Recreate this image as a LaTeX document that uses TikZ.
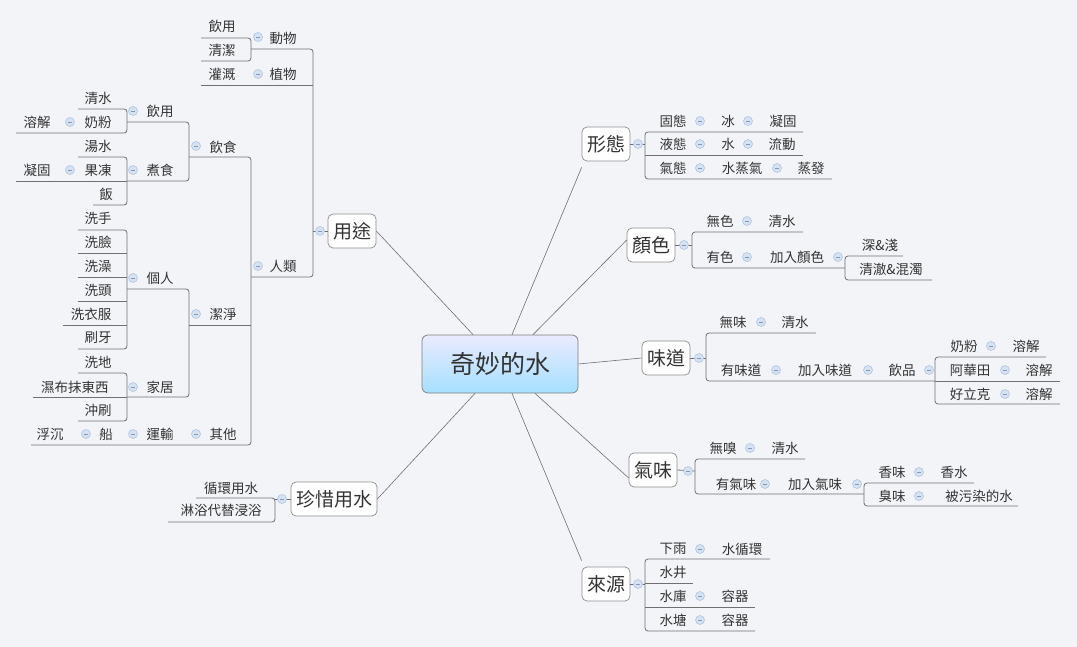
\documentclass[tikz,border=0pt]{standalone}
\usepackage{fontspec}
\setmainfont{Noto Sans CJK TC}
\begin{document}
\definecolor{bg}{HTML}{F3F4F8}
\definecolor{ln}{HTML}{707070}
\definecolor{tx}{HTML}{333333}
\definecolor{cf}{HTML}{D5E2F3}
\definecolor{cb}{HTML}{A9BFDD}
\tikzset{
 lk/.style={draw=ln,line width=0.8pt},
 br/.style={draw=ln,line width=0.8pt,rounded corners=3pt},
 leaf/.style={text=tx,font=\fontsize{13.5}{13.5}\selectfont,inner sep=0pt},
 topic/.style={draw=ln!80,fill=white,rounded corners=5pt,text=tx,font=\fontsize{19}{19}\selectfont,minimum height=34pt,inner xsep=5pt,line width=0.7pt},
 coll/.style={circle,draw=cb,fill=cf,minimum size=9pt,inner sep=0pt,line width=0.5pt}
}
\newcommand{\cl}[1]{\node[coll] at (#1) {}; \draw[cb!80!black,line width=0.6pt] ([xshift=-2pt]#1) -- ([xshift=2pt]#1);}
\newcommand{\T}[3]{\node[leaf] (#1) at (#2) {#3};}
\begin{tikzpicture}[x=1pt,y=-1pt]
\fill[bg] (0,0) rectangle (1077,647);
\useasboundingbox (0,0) rectangle (1077,647);
% center
\node[draw=ln!90,rounded corners=6pt,top color=blue!8!white,bottom color=blue!35!cyan!35!white,minimum width=156pt,minimum height=58pt,font=\fontsize{25}{25}\selectfont,text=tx,line width=0.7pt] (c) at (500,364) {奇妙的水};
\node[topic] (xt) at (606,144) {形態};
\node[topic] (ys) at (651,245) {顏色};
\node[topic] (wd) at (666,358) {味道};
\node[topic] (qw) at (653,470) {氣味};
\node[topic] (ly) at (606,584) {來源};
\node[topic] (yt) at (352,231) {用途};
\node[topic] (zx) at (334,499) {珍惜用水};
\begin{scope}[lk,line width=0.6pt]
\draw ([xshift=12pt]c.north) -- ([yshift=-6pt]xt.south west);
\draw ([xshift=33pt]c.north) -- ([yshift=5pt]ys.west);
\draw (c.east) -- (wd.west);
\draw ([xshift=35pt]c.south) -- ([yshift=-8pt]qw.west);
\draw ([xshift=12pt]c.south) -- ([yshift=6pt]ly.north west);
\draw ([xshift=-27pt]c.north) -- (yt.east);
\draw ([xshift=-25pt]c.south) -- (zx.east);
\end{scope}
% ---- 形態
\draw[lk] (xt.east) -- (645,144);
\draw[br] (803,132) -- (645,132) -- (645,179) -- (832,179);
\draw[lk] (645,155) -- (803,155);
\cl{638,144}
\T{a1}{673,121}{固態}\cl{700,121}\T{a2}{728,121}{冰}\cl{748,121}\T{a3}{783,121}{凝固}
\T{a4}{673,144}{液態}\cl{700,144}\T{a5}{728,144}{水}\cl{748,144}\T{a6}{782,144}{流動}
\T{a7}{673,168}{氣態}\cl{700,168}\T{a8}{742,168}{水蒸氣}\cl{777,168}\T{a9}{811,168}{蒸發}
% ---- 顏色
\draw[lk] (ys.east) -- (692,245);
\draw[br] (803,232) -- (692,232) -- (692,268) -- (845,268);
\cl{684,245}
\T{b1}{720,221}{無色}\cl{747,221}\T{b2}{782,221}{清水}
\T{b3}{720,257}{有色}\cl{747,257}\T{b4}{797,257}{加入顏色}\cl{838,257}
\draw[br] (903,256) -- (845,256) -- (845,280) -- (932,280);
\T{b5}{880,245}{深\&淺}\T{b6}{891,269}{清澈\&混濁}
% ---- 味道
\draw[lk] (wd.east) -- (706,358);
\draw[br] (816,333) -- (706,333) -- (706,381) -- (935,381);
\cl{699,358}
\T{c1}{733,322}{無味}\cl{761,322}\T{c2}{795,322}{清水}
\T{c3}{741,370}{有味道}\cl{776,370}\T{c4}{825,370}{加入味道}\cl{868,370}\T{c5}{902,370}{飲品}\cl{929,370}
\draw[br] (1046,357) -- (935,357) -- (935,404) -- (1060,404);
\draw[lk] (935,381) -- (1060,381);
\T{c6}{964,346}{奶粉}\cl{991,346}\T{c7}{1026,346}{溶解}
\T{c8}{970,370}{阿華田}\cl{1005,370}\T{c9}{1039,370}{溶解}
\T{c10}{970,394}{好立克}\cl{1005,394}\T{c11}{1039,394}{溶解}
% ---- 氣味
\draw[lk] (qw.east) -- (695,471);
\draw[br] (805,459) -- (695,459) -- (695,494) -- (864,494);
\cl{688,471}
\T{d1}{723,448}{無嗅}\cl{750,448}\T{d2}{785,448}{清水}
\T{d3}{736,484}{有氣味}\cl{765,484}\T{d4}{815,484}{加入氣味}\cl{857,484}
\draw[br] (974,483) -- (864,483) -- (864,506) -- (1018,506);
\T{d5}{892,472}{香味}\cl{919,472}\T{d6}{954,472}{香水}
\T{d7}{892,496}{臭味}\cl{919,496}\T{d8}{979,496}{被污染的水}
% ---- 來源
\draw[lk] (ly.east) -- (645,584);
\draw[br] (770,559) -- (645,559) -- (645,631) -- (755,631);
\draw[lk] (645,583) -- (693,583);
\draw[lk] (645,607) -- (755,607);
\cl{638,584}
\T{e1}{673,549}{下雨}\cl{700,549}\T{e2}{742,549}{水循環}
\T{e3}{673,572}{水井}
\T{e4}{673,596}{水庫}\cl{700,596}\T{e5}{735,596}{容器}
\T{e6}{673,620}{水塘}\cl{700,620}\T{e7}{735,620}{容器}
% ---- 用途
\draw[lk] (yt.west) -- (313,231);
\draw[br] (251,49) -- (313,49) -- (313,277) -- (251,277);
\draw[lk] (201,85) -- (313,85);
\cl{320,231}
\T{f1}{283,38}{動物}\cl{258,37}
\draw[br] (201,38) -- (251,38) -- (251,61) -- (201,61);
\T{f2}{222,26}{飲用}\T{f3}{222,50}{清潔}
\T{f4}{283,74}{植物}\cl{258,74}\T{f5}{222,74}{灌溉}
\T{f6}{283,266}{人類}\cl{258,266}
\draw[br] (189,157) -- (251,157) -- (251,445) -- (31,445);
\draw[lk] (189,325) -- (251,325);
% 飲食
\T{g1}{223,147}{飲食}\cl{196,146}
\draw[br] (127,122) -- (189,122) -- (189,181) -- (127,181);
\T{g2}{160,111}{飲用}\cl{133,111}
\draw[br] (78,109) -- (127,109) -- (127,133) -- (16,133);
\T{g3}{98,98}{清水}\T{g4}{98,122}{奶粉}\cl{70,122}\T{g5}{37,122}{溶解}
\T{g6}{160,170}{煮食}\cl{133,170}
\draw[br] (78,157) -- (127,157) -- (127,205) -- (93,205);
\draw[lk] (16,181) -- (127,181);
\T{g7}{98,146}{湯水}\T{g8}{98,170}{果凍}\cl{70,170}\T{g9}{37,170}{凝固}\T{g10}{106,194}{飯}
% 潔淨
\T{h1}{223,314}{潔淨}\cl{196,314}
\draw[br] (127,289) -- (189,289) -- (189,397) -- (127,397);
\T{h2}{160,278}{個人}\cl{133,278}
\draw[br] (78,230) -- (127,230) -- (127,349) -- (78,349);
\draw[lk] (78,253) -- (127,253); \draw[lk] (78,277) -- (127,277);
\draw[lk] (78,301) -- (127,301); \draw[lk] (63,325) -- (127,325);
\T{h3}{98,218}{洗手}\T{h4}{98,242}{洗臉}\T{h5}{98,266}{洗澡}\T{h6}{98,290}{洗頭}\T{h7}{91,314}{洗衣服}\T{h8}{98,338}{刷牙}
\T{h9}{160,387}{家居}\cl{133,387}
\draw[br] (78,373) -- (127,373) -- (127,421) -- (78,421);
\draw[lk] (33,397) -- (127,397);
\T{h10}{98,362}{洗地}\T{h11}{75,387}{濕布抹東西}\T{h12}{98,410}{沖刷}
% 其他
\T{i1}{223,434}{其他}\cl{196,434}\T{i2}{160,434}{運輸}\cl{133,434}\T{i3}{106,434}{船}\cl{86,434}\T{i4}{50,434}{浮沉}
% ---- 珍惜用水
\draw[lk] (zx.west) -- (275,499);
\draw[br] (196,498) -- (275,498) -- (275,522) -- (168,522);
\cl{282,499}
\T{j1}{231,488}{循環用水}\T{j2}{221,510}{淋浴代替浸浴}
\end{tikzpicture}
\end{document}
